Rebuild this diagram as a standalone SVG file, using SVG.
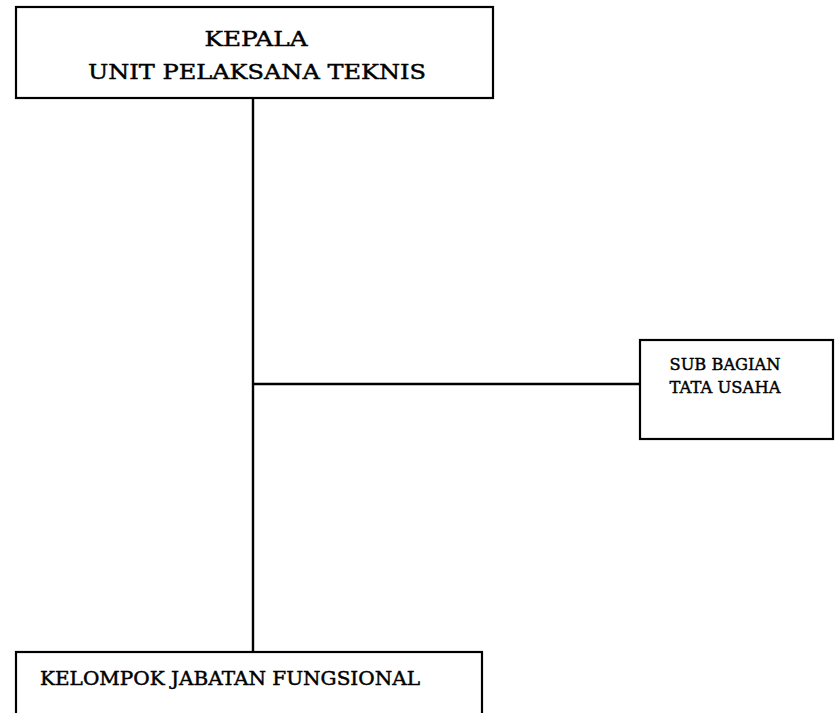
<svg xmlns="http://www.w3.org/2000/svg" width="835" height="713" viewBox="0 0 835 713">
<style>
.box{fill:#fff;stroke:#000;stroke-width:2.2}
.ln{stroke:#000;stroke-width:2.4;fill:none}
text{font-family:"DejaVu Serif","Liberation Serif",serif;fill:#000;stroke:#000;stroke-width:0.45}
</style>
<rect width="835" height="713" fill="#fff"/>
<g id="connectors">
<line class="ln" x1="253" y1="98" x2="253" y2="652"/>
<line class="ln" x1="253" y1="384" x2="640" y2="384"/>
</g>
<g id="kepala">
<rect class="box" x="16" y="7" width="477" height="91"/>
<text x="256" y="46" font-size="20.5" text-anchor="middle" textLength="103" lengthAdjust="spacingAndGlyphs">KEPALA</text>
<text x="257" y="79" font-size="20.5" text-anchor="middle" textLength="338" lengthAdjust="spacingAndGlyphs">UNIT PELAKSANA TEKNIS</text>
</g>
<g id="subbagian">
<rect class="box" x="640" y="340" width="193" height="99"/>
<text x="725" y="370" font-size="17.5" text-anchor="middle" textLength="111" lengthAdjust="spacingAndGlyphs">SUB BAGIAN</text>
<text x="725" y="393" font-size="17.5" text-anchor="middle" textLength="111" lengthAdjust="spacingAndGlyphs">TATA USAHA</text>
</g>
<g id="kelompok">
<rect class="box" x="16" y="652" width="466" height="80"/>
<text x="40" y="685" font-size="18.5" textLength="380" lengthAdjust="spacingAndGlyphs">KELOMPOK JABATAN FUNGSIONAL</text>
</g>
</svg>
